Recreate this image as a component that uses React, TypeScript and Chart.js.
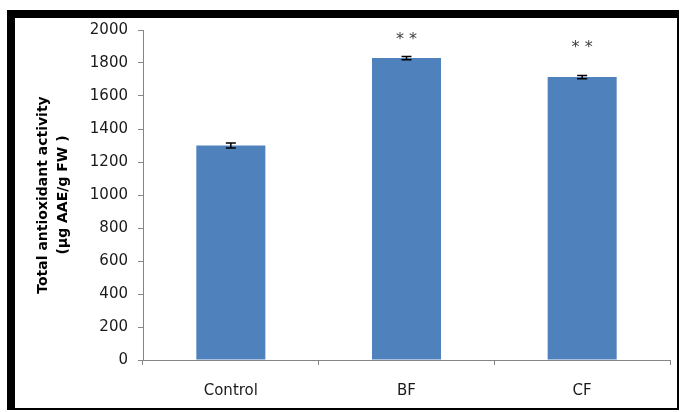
import React, { useEffect, useRef } from "react";
import { Chart, registerables } from "chart.js";

Chart.register(...registerables);

const categories = ["Control", "BF", "CF"];
const values = [1300, 1830, 1715];
const errors = [15, 10, 10];
const sigLabels = ["", "* *", "* *"];
const sigValues = [null, 1960, 1910];
const yTicks = { min: 0, max: 2000, step: 200 };
const yTitle = ["Total antioxidant activity", "(µg AAE/g FW )"];

const FONT = "'DejaVu Sans', sans-serif";

const errorBarPlugin = {
  id: "errorBars",
  afterDatasetsDraw(chart: any) {
    const meta = chart.getDatasetMeta(0);
    const y = chart.scales.y;
    const ctx = chart.ctx;
    ctx.save();
    ctx.strokeStyle = "#000";
    ctx.lineWidth = 1.5;
    meta.data.forEach((bar: any, i: number) => {
      const x = bar.x;
      const top = y.getPixelForValue(values[i] + errors[i]);
      const bot = y.getPixelForValue(values[i] - errors[i]);
      ctx.beginPath();
      ctx.moveTo(x, top);
      ctx.lineTo(x, bot);
      ctx.moveTo(x - 5, top);
      ctx.lineTo(x + 5, top);
      ctx.moveTo(x - 5, bot);
      ctx.lineTo(x + 5, bot);
      ctx.stroke();
      const lbl = sigLabels[i];
      const sv = sigValues[i];
      if (lbl && sv != null) {
        ctx.fillStyle = "#404040";
        ctx.font = `16px ${FONT}`;
        ctx.textAlign = "center";
        ctx.textBaseline = "middle";
        ctx.fillText(lbl, x, y.getPixelForValue(sv) + 3);
      }
    });
    ctx.restore();
  },
};

export default function App() {
  const ref = useRef<HTMLCanvasElement>(null);
  useEffect(() => {
    if (!ref.current) return;
    const chart = new Chart(ref.current, {
      type: "bar",
      data: {
        labels: categories,
        datasets: [
          {
            data: values,
            backgroundColor: "#4F81BD",
            borderWidth: 0,
            barPercentage: 0.393,
            categoryPercentage: 1,
          },
        ],
      },
      plugins: [errorBarPlugin],
      options: {
        animation: false,
        responsive: false,
        maintainAspectRatio: false,
        layout: { padding: { top: 30, right: 10, left: 0, bottom: 0 } },
        plugins: { legend: { display: false }, tooltip: { enabled: false } },
        scales: {
          x: {
            grid: {
              drawOnChartArea: false,
              drawTicks: true,
              tickLength: 5,
              color: "#868686",
              offset: true,
            },
            border: { color: "#868686", width: 1 },
            ticks: {
              font: { family: FONT, size: 15 },
              color: "#1a1a1a",
              padding: 17,
            },
            afterFit: (s: any) => {
              s.height = 52;
            },
          },
          y: {
            min: yTicks.min,
            max: yTicks.max,
            ticks: {
              stepSize: yTicks.step,
              font: { family: FONT, size: 15 },
              color: "#1a1a1a",
              padding: 10,
              callback: (v: any) => String(v),
            },
            grid: {
              drawOnChartArea: false,
              drawTicks: true,
              tickLength: 5,
              color: "#868686",
            },
            border: { color: "#868686", width: 1 },
            title: {
              display: true,
              text: yTitle,
              color: "#000",
              font: { family: FONT, size: 14, weight: "bold", lineHeight: 1.4 },
              padding: { top: 34, bottom: 0 },
            },
            afterFit: (s: any) => {
              s.width = 143;
            },
          },
        },
      },
    });
    return () => chart.destroy();
  }, []);

  return (
    <div style={{ position: "absolute", left: 0, top: 0, width: 680, height: 412, background: "#fff" }}>
      <canvas ref={ref} width={680} height={412} style={{ position: "absolute", left: 0, top: 0 }} />
      <div
        style={{
          position: "absolute",
          left: 7,
          top: 10,
          width: 672,
          height: 400,
          boxSizing: "border-box",
          borderStyle: "solid",
          borderColor: "#000",
          borderWidth: "8px 2px 2px 8px",
          pointerEvents: "none",
        }}
      />
    </div>
  );
}
